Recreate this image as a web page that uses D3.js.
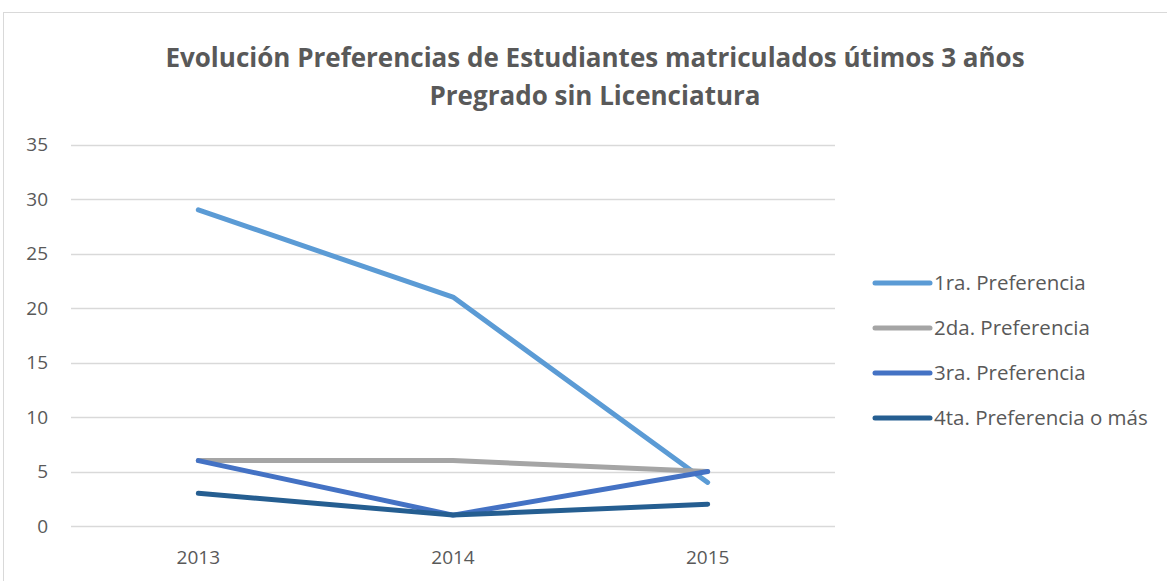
<!DOCTYPE html>
<html>
<head>
<meta charset="utf-8">
<script src="https://cdn.jsdelivr.net/npm/d3@7"></script>
<style>
  body { margin: 0; background: #fff; }
  svg { display: block; font-family: "Open Sans", "Noto Sans", sans-serif; }
</style>
</head>
<body>
<svg id="chart" width="1167" height="581"></svg>
<script>
// Chart data
const years = ['2013', '2014', '2015'];
const seriesNames = ['1ra. Preferencia', '2da. Preferencia', '3ra. Preferencia', '4ta. Preferencia o más'];
const pref1 = [29, 21, 4];
const pref2 = [6, 6, 5];
const pref3 = [6, 1, 5];
const pref4 = [3, 1, 2];
const yTicks = [0, 5, 10, 15, 20, 25, 30, 35];
const titleLines = ['Evolución Preferencias de Estudiantes matriculados útimos 3 años', 'Pregrado sin Licenciatura'];

const colors = ['#5b9bd5', '#a5a5a5', '#4472c4', '#255e91'];
const series = [pref1, pref2, pref3, pref4].map((vals, i) => ({ name: seriesNames[i], values: vals, color: colors[i] }));

const svg = d3.select('#chart');

// outer chart border (right/bottom fall outside the picture)
svg.append('rect')
    .attr('x', 3.5).attr('y', 12.5)
    .attr('width', 1200).attr('height', 600)
    .attr('fill', 'none')
    .attr('stroke', '#d9d9d9');

// title
svg.append('g')
    .selectAll('text')
    .data(titleLines)
    .enter().append('text')
    .attr('x', 595)
    .attr('y', (d, i) => 67 + i * 38)
    .attr('text-anchor', 'middle')
    .attr('font-size', '26px')
    .attr('font-weight', 'bold')
    .attr('fill', '#595959')
    .text(d => d);

// scales
const x = d3.scaleBand().domain(years).range([71, 835]);
const y = d3.scaleLinear().domain([0, 35]).range([526, 144.5]);

// gridlines
svg.append('g')
    .selectAll('line')
    .data(yTicks)
    .enter().append('line')
    .attr('x1', 71).attr('x2', 835)
    .attr('y1', d => Math.round(y(d)) + 0.5)
    .attr('y2', d => Math.round(y(d)) + 0.5)
    .attr('stroke', '#d9d9d9')
    .attr('stroke-width', 1.5);

// y axis labels
const yAxis = svg.append('g')
    .attr('transform', 'translate(48,0)')
    .call(d3.axisLeft(y).tickValues(yTicks).tickSize(0).tickPadding(0));
yAxis.select('.domain').remove();
yAxis.selectAll('text')
    .attr('font-family', '"Open Sans", sans-serif')
    .attr('font-size', '19px')
    .attr('fill', '#595959');

// x axis labels
const xAxis = svg.append('g')
    .attr('transform', 'translate(0,543)')
    .call(d3.axisBottom(x).tickSize(0).tickPadding(8));
xAxis.select('.domain').remove();
xAxis.selectAll('text')
    .attr('font-family', '"Open Sans", sans-serif')
    .attr('font-size', '19px')
    .attr('fill', '#595959');

// lines
const line = d3.line()
    .x((d, i) => x(years[i]) + x.bandwidth() / 2)
    .y(d => y(d));

svg.append('g')
    .selectAll('path')
    .data(series)
    .enter().append('path')
    .attr('d', d => line(d.values))
    .attr('fill', 'none')
    .attr('stroke', d => d.color)
    .attr('stroke-width', 5)
    .attr('stroke-linecap', 'round')
    .attr('stroke-linejoin', 'round');

// legend
const legend = svg.append('g')
    .selectAll('g')
    .data(series)
    .enter().append('g')
    .attr('transform', (d, i) => `translate(875,${283 + i * 45})`);

legend.append('line')
    .attr('x1', 0).attr('x2', 55)
    .attr('stroke', d => d.color)
    .attr('stroke-width', 5)
    .attr('stroke-linecap', 'round');

legend.append('text')
    .attr('x', 59)
    .attr('dy', '0.35em')
    .attr('font-size', '20.5px')
    .attr('fill', '#595959')
    .text(d => d.name);
</script>
</body>
</html>
